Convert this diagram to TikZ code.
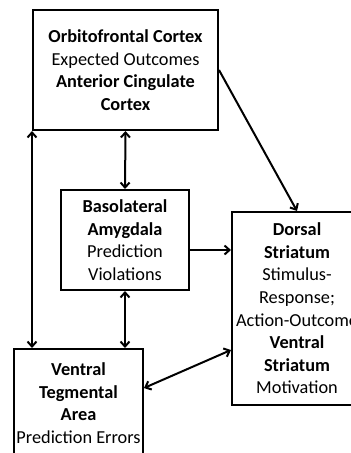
\documentclass[tikz,border=0pt]{standalone}
\usepackage{fontspec}
\setmainfont{Carlito}
\usetikzlibrary{positioning, arrows.meta, calc}

\tikzset{
  region/.style={draw, line width=2pt, align=center, inner sep=0pt,
    font=\fontsize{18.3}{22.6}\selectfont},
  link/.style={line width=2pt, -{Straight Barb[length=5pt,width=9pt]}},
  biglink/.style={line width=2pt, {Straight Barb[length=5pt,width=9pt]}-{Straight Barb[length=5pt,width=9pt]}}
}

\begin{document}
\begin{tikzpicture}[x=1pt, y=-1pt]
			\useasboundingbox (0,0) rectangle (351,453);
			\clip (0,0) rectangle (351,453);
			
			% Brain regions
			\node (ofc) at (125.5, 70) [region, minimum width=185pt, minimum height=120pt] {\textbf{Orbitofrontal Cortex}\\Expected Outcomes\\\textbf{Anterior Cingulate}\\\textbf{Cortex}};
			\node (bla) at (125, 240) [region, minimum width=128pt, minimum height=100pt] {\textbf{Basolateral}\\\textbf{Amygdala}\\Prediction\\Violations};
			\node (ds) at (297, 308.5) [region, minimum width=130pt, minimum height=193pt] {\textbf{Dorsal}\\\textbf{Striatum}\\Stimulus-\\Response;\\Action-Outcome\\\textbf{Ventral}\\\textbf{Striatum}\\Motivation};
			\node (vta) at (78.5, 403) [region, minimum width=129pt, minimum height=108pt] {\textbf{Ventral}\\\textbf{Tegmental}\\\textbf{Area}\\Prediction Errors};
			
			% Two-way connections
			\draw[biglink] (ofc.south) -- (bla.north);
			\draw[biglink] (ofc.south west) -- (ofc.south west |- vta.north);
			\draw[biglink] (bla.south) -- (bla.south |- vta.north);
			\draw[biglink] ([yshift=15pt]vta.east) -- ([yshift=-41.5pt]ds.west);
			
			% One-way connections into the striatum
			\draw[link] (ofc.east) -- (ds.north);
			\draw[link] ([yshift=-10pt]bla.east) -- ([yshift=-10pt]bla.east -| ds.west);
		\end{tikzpicture}
\end{document}
